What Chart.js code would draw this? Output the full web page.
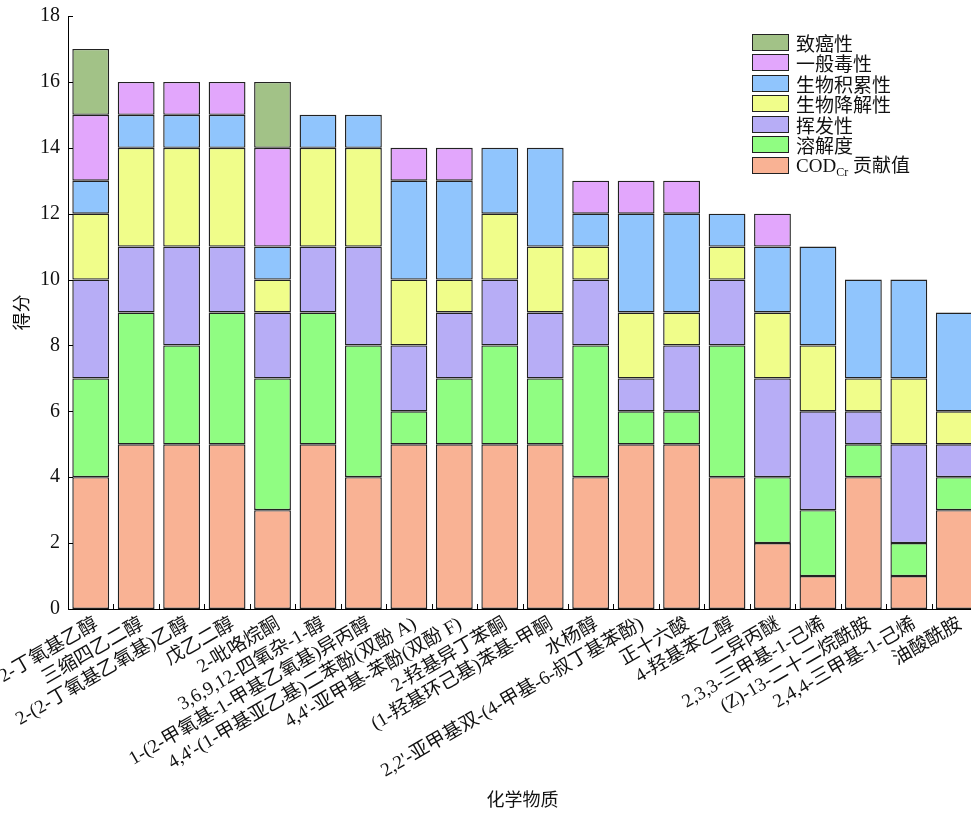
<!DOCTYPE html>
<html><head><meta charset="utf-8">
<script src="https://cdn.jsdelivr.net/npm/chart.js@4.4.1/dist/chart.umd.min.js"></script>
<style>
html,body{margin:0;padding:0;overflow:hidden;background:#fff;}
#wrap{position:relative;width:971px;height:818px;overflow:hidden;}
canvas{position:absolute;left:0;top:0;}
#legend{position:absolute;left:752px;top:32px;font-family:'Liberation Serif','Noto Sans CJK SC',serif;font-size:19px;color:#111;}
.item{height:20.5px;display:flex;align-items:center;white-space:nowrap;}
.box{width:37px;height:17px;border:1.5px solid #222;margin-right:7px;box-sizing:border-box;}
sub{font-size:12px;vertical-align:-4px;}
</style></head>
<body><div id="wrap"><canvas id="c" width="977" height="818"></canvas><div id="legend"></div></div>
<script>
const categories = [
  '2-丁氧基乙醇','三缩四乙二醇','2-(2-丁氧基乙氧基)乙醇','戊乙二醇','2-吡咯烷酮',
  '3,6,9,12-四氧杂-1-醇','1-(2-甲氧基-1-甲基乙氧基)异丙醇','4,4\'-(1-甲基亚乙基)二苯酚(双酚 A)',
  '4,4\'-亚甲基-苯酚(双酚 F)','2-羟基异丁苯酮','(1-羟基环己基)苯基-甲酮','水杨醇',
  '2,2\'-亚甲基双-(4-甲基-6-叔丁基苯酚)','正十六酸','4-羟基苯乙醇','二异丙醚',
  '2,3,3-三甲基-1-己烯','(Z)-13-二十二烷酰胺','2,4,4-三甲基-1-己烯','油酸酰胺'
];
const codCr            = [4,5,5,5,3,5,4,5,5,5,5,4,5,5,4,2,1,4,1,3];
const solubility       = [3,4,3,4,4,4,4,1,2,3,2,4,1,1,4,2,2,1,1,1];
const volatility       = [3,2,3,2,2,2,3,2,2,2,2,2,1,2,2,3,3,1,3,1];
const biodegradability = [2,3,3,3,1,3,3,2,1,2,2,1,2,1,1,2,2,1,2,1];
const bioaccumulation  = [1,1,1,1,1,1,1,3,3,2,3,1,3,3,1,2,3,3,3,3];
const generalToxicity  = [2,1,1,1,3,0,0,1,1,0,0,1,1,1,0,1,0,0,0,0];
const carcinogenicity  = [2,0,0,0,2,0,0,0,0,0,0,0,0,0,0,0,0,0,0,0];
const yTicks = [0,2,4,6,8,10,12,14,16,18];

const seriesNames = ['COD<sub>Cr</sub> 贡献值','溶解度','挥发性','生物降解性','生物积累性','一般毒性','致癌性'];
const seriesData = [codCr, solubility, volatility, biodegradability, bioaccumulation, generalToxicity, carcinogenicity];
const seriesColors = ['#f9b294','#90fd82','#b7adf6','#f0fd8a','#90c5fd','#e2a6fc','#a2c287'];

const FONT = "'Liberation Serif','Noto Sans CJK SC',serif";

const innerTicks = {
  id: 'innerTicks',
  afterDraw(chart) {
    const {ctx, chartArea: a, scales: {x, y}} = chart;
    ctx.save();
    ctx.strokeStyle = '#000';
    ctx.lineWidth = 1;
    ctx.beginPath();
    y.ticks.forEach((t, i) => {
      const py = Math.round(y.getPixelForTick(i)) + 0.5;
      ctx.moveTo(a.left, py); ctx.lineTo(a.left + 5, py);
    });
    for (let i = 1; i < categories.length; i++) {
      const px = Math.round((x.getPixelForTick(i - 1) + x.getPixelForTick(i)) / 2) + 0.5;
      ctx.moveTo(px, a.bottom); ctx.lineTo(px, a.bottom - 5);
    }
    ctx.stroke();
    ctx.restore();
  }
};

new Chart(document.getElementById('c'), {
  type: 'bar',
  data: {
    labels: categories,
    datasets: seriesData.map((d, i) => ({
      label: seriesNames[i].replace(/<[^>]+>/g, ''),
      data: d.map(v => v === 0 ? null : v),
      backgroundColor: seriesColors[i],
      borderColor: '#222',
      borderWidth: 1.4,
      borderSkipped: false,
      barPercentage: 0.81,
      categoryPercentage: 1.0
    }))
  },
  options: {
    responsive: false,
    animation: false,
    devicePixelRatio: 1,
    layout: {padding: {top: 16, left: 0, right: 0, bottom: 0}},
    plugins: {legend: {display: false}, tooltip: {enabled: false}},
    scales: {
      x: {
        stacked: true,
        grid: {display: false, drawTicks: false},
        border: {display: true, color: '#000', width: 1},
        ticks: {
          autoSkip: false, maxRotation: 30, minRotation: 30, padding: 4, labelOffset: 6,
          color: '#111', font: {family: FONT, size: 19}
        },
        title: {display: true, text: '化学物质', color: '#111', font: {family: FONT, size: 18}, padding: {top: 0, bottom: 6}},
        afterFit(s) { s.height = 209; s.paddingLeft = 0; s.paddingRight = 0; }
      },
      y: {
        stacked: true,
        min: 0, max: 18,
        afterBuildTicks(s) { s.ticks = yTicks.map(v => ({value: v})); },
        grid: {display: false, drawTicks: false},
        border: {display: true, color: '#000', width: 1},
        ticks: {padding: 8, color: '#111', font: {family: FONT, size: 20}},
        title: {display: true, text: '得分', color: '#111', font: {family: FONT, size: 18}, padding: {top: 12, bottom: 0}},
        afterFit(s) { s.width = 68; s.paddingTop = 0; s.paddingBottom = 0; }
      }
    }
  },
  plugins: [innerTicks]
});

const lg = document.getElementById('legend');
for (let i = seriesNames.length - 1; i >= 0; i--) {
  const it = document.createElement('div');
  it.className = 'item';
  it.innerHTML = '<span class="box" style="background:' + seriesColors[i] + '"></span><span>' + seriesNames[i] + '</span>';
  lg.appendChild(it);
}
</script>
</body></html>
